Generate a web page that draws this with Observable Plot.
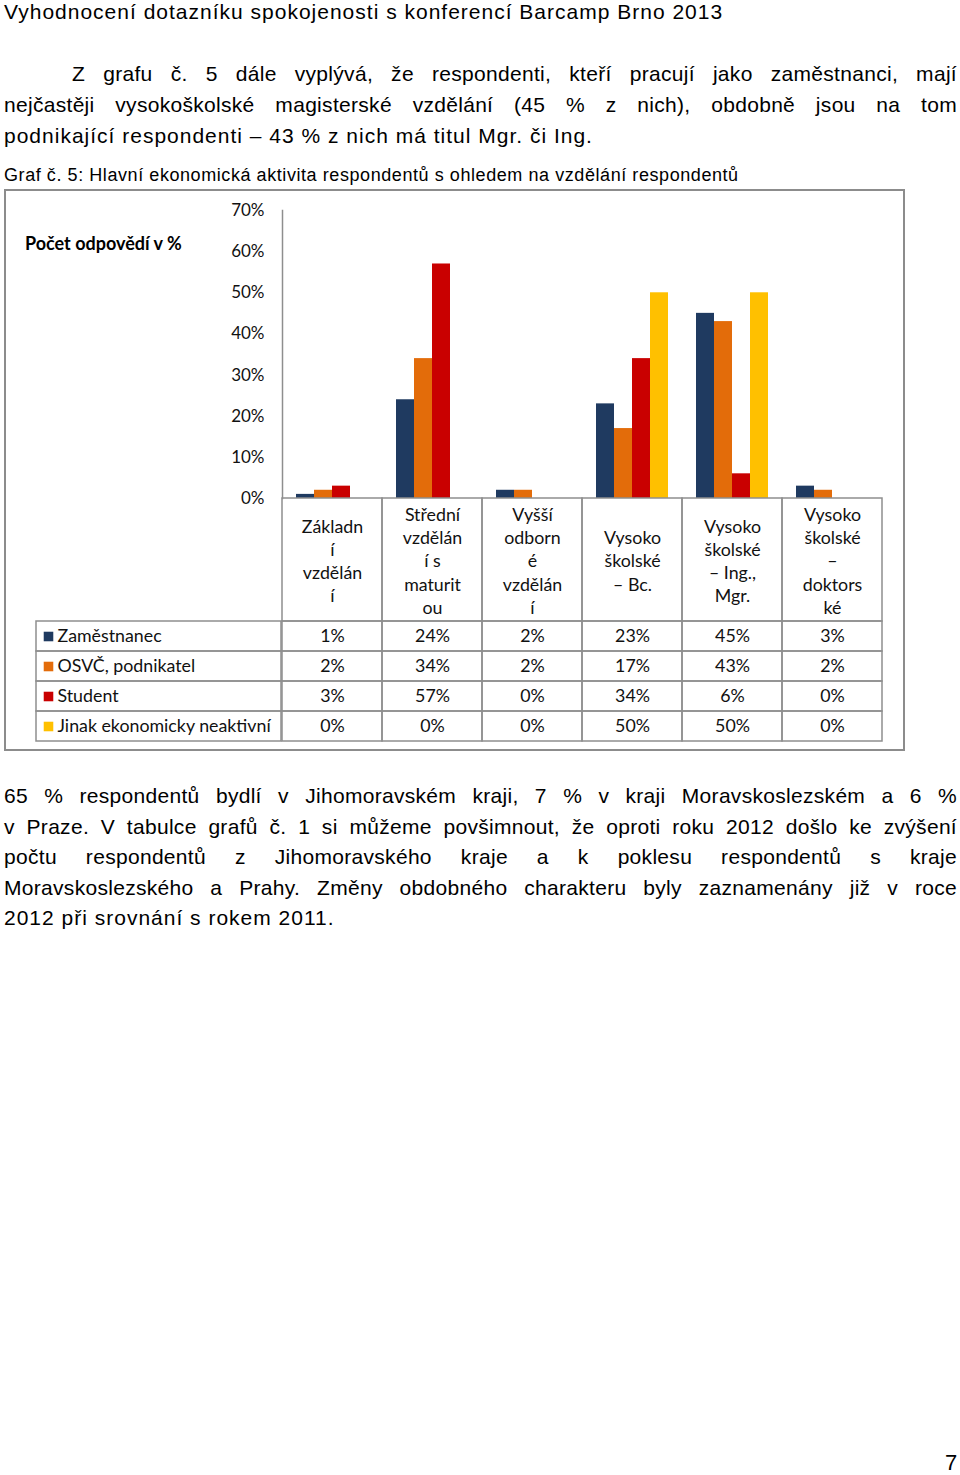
<!DOCTYPE html>
<html>
<head>
<meta charset="utf-8">
<script src="https://cdn.jsdelivr.net/npm/d3@7"></script>
<script src="https://cdn.jsdelivr.net/npm/@observablehq/plot@0.6"></script>
<style>
  html, body { margin: 0; padding: 0; background: #fff; }
  #page { position: relative; width: 960px; height: 1475px; background: #fff; overflow: hidden;
          font-family: "Liberation Sans", Arial, sans-serif; color: #000; }
  .line { position: absolute; font-size: 21px; line-height: 24px; white-space: nowrap; letter-spacing: 1px; }
  .just { text-align: justify; text-align-last: justify; white-space: normal; letter-spacing: 0.3px; }
  .abs { position: absolute; }
  #box { position: absolute; left: 4px; top: 189px; width: 901px; height: 562px; box-sizing: border-box;
         border: 2px solid #8c8c8c; }
  svg.plot-svg { position: absolute; background: transparent; overflow: visible; }
</style>
</head>
<body>
<div id="page">
  <div class="line" style="left:4px; top:0px;">Vyhodnocení dotazníku spokojenosti s konferencí Barcamp Brno 2013</div>

  <div class="line just" style="left:72px; top:62px; width:885px;">Z grafu č. 5 dále vyplývá, že respondenti, kteří pracují jako zaměstnanci, mají</div>
  <div class="line just" style="left:4px; top:93px; width:953px;">nejčastěji vysokoškolské magisterské vzdělání (45 % z nich), obdobně jsou na tom</div>
  <div class="line" style="left:4px; top:124px;">podnikající respondenti – 43 % z nich má titul Mgr. či Ing.</div>

  <div class="line" style="left:4px; top:164px; font-size:18px; line-height:22px; letter-spacing:0.57px;">Graf č. 5: Hlavní ekonomická aktivita respondentů s ohledem na vzdělání respondentů</div>

  <div id="box"></div>
  <div class="abs" style="left:25px; top:231px; font-family: Lato, sans-serif; font-weight:bold; font-size:18px; line-height:24px;">Počet odpovědí v %</div>

  <div class="line just" style="left:4px; top:784px; width:953px;">65 % respondentů bydlí v Jihomoravském kraji, 7 % v kraji Moravskoslezském a 6 %</div>
  <div class="line just" style="left:4px; top:815px; width:953px;">v Praze. V tabulce grafů č. 1 si můžeme povšimnout, že oproti roku 2012 došlo ke zvýšení</div>
  <div class="line just" style="left:4px; top:845px; width:953px;">počtu respondentů z Jihomoravského kraje a k poklesu respondentů s kraje</div>
  <div class="line just" style="left:4px; top:876px; width:953px;">Moravskoslezského a Prahy. Změny obdobného charakteru byly zaznamenány již v roce</div>
  <div class="line" style="left:4px; top:906px;">2012 při srovnání s rokem 2011.</div>

  <div class="line" style="left:945px; top:1451px; font-size:22px;">7</div>
</div>
<script>
// ---- data ----
const categories = ["Základní vzdělání", "Střední vzdělání s maturitou", "Vyšší odborné vzdělání",
                    "Vysokoškolské – Bc.", "Vysokoškolské – Ing., Mgr.", "Vysokoškolské – doktorské"];
const categoryLabels = ["Základn\ní\nvzdělán\ní", "Střední\nvzdělán\ní s\nmaturit\nou", "Vyšší\nodborn\né\nvzdělán\ní",
                        "Vysoko\nškolské\n– Bc.", "Vysoko\nškolské\n– Ing.,\nMgr.", "Vysoko\nškolské\n–\ndoktors\nké"];
const series = ["Zaměstnanec", "OSVČ, podnikatel", "Student", "Jinak ekonomicky neaktivní"];
const zamestnanec = [1, 24, 2, 23, 45, 3];
const osvc = [2, 34, 2, 17, 43, 2];
const student = [3, 57, 0, 34, 6, 0];
const jinak = [0, 0, 0, 50, 50, 0];
const seriesColors = ["#1F3A60", "#E36C0A", "#C90000", "#FFC000"];
const yTicks = [0, 10, 20, 30, 40, 50, 60, 70];

// ---- build table ----
const valuesBySeries = [zamestnanec, osvc, student, jinak];
const rows = [];
series.forEach((s, si) => categories.forEach((c, ci) => rows.push({series: s, category: c, value: valuesBySeries[si][ci]})));
const labelOf = new Map(categories.map((c, i) => [c, categoryLabels[i]]));

const FONT = "Lato, sans-serif";
const FS = 17.8;
const GRID = "#8e8e8e";
const page = document.getElementById("page");
function place(svg, left, top) {
  svg.classList.add("plot-svg");
  svg.style.left = left + "px";
  svg.style.top = top + "px";
  page.appendChild(svg);
}

// ---- bar chart ----
const bars = Plot.plot({
  width: 960, height: 321,
  marginLeft: 281, marginRight: 77, marginTop: 21, marginBottom: 12,
  style: {fontFamily: FONT, fontSize: "16px", color: "#000", background: "transparent", overflow: "visible"},
  fx: {domain: categories, padding: 0, axis: null},
  x: {domain: series, paddingInner: 0, paddingOuter: 0.77, axis: null},
  y: {domain: [0, 70], axis: null},
  color: {domain: series, range: seriesColors},
  marks: [
    Plot.axisY({ticks: yTicks, tickFormat: d => d + "%", tickSize: 0, tickPadding: 18, label: null,
                fontSize: 17, fill: "#111", facetAnchor: "left"}),
    Plot.frame({anchor: "left", stroke: GRID, strokeWidth: 1.5, strokeOpacity: 1, facetAnchor: "left"}),
    Plot.barY(rows, {fx: "category", x: "series", y: "value", fill: "series"})
  ]
});
place(bars, 0, 189);

// ---- table header (category labels) ----
const header = Plot.plot({
  width: 960, height: 125,
  marginLeft: 281, marginRight: 77, marginTop: 1, marginBottom: 1,
  style: {fontFamily: FONT, fontSize: "16px", color: "#000", background: "transparent", overflow: "visible"},
  x: {domain: categories, padding: 0, axis: null},
  marks: [
    Plot.cell(categories, {x: d => d, fill: "none", stroke: GRID, strokeWidth: 1.5}),
    Plot.text(categories, {x: d => d, text: d => labelOf.get(d), frameAnchor: "middle", lineAnchor: "middle",
                           lineHeight: 1.31, fontSize: FS, fill: "#111"})
  ]
});
place(header, 0, 497);

// ---- table values ----
const values = Plot.plot({
  width: 960, height: 122,
  marginLeft: 281, marginRight: 77, marginTop: 1, marginBottom: 1,
  style: {fontFamily: FONT, fontSize: "16px", color: "#000", background: "transparent", overflow: "visible"},
  x: {domain: categories, padding: 0, axis: null},
  y: {domain: series, padding: 0, axis: null},
  marks: [
    Plot.cell(rows, {x: "category", y: "series", fill: "none", stroke: GRID, strokeWidth: 1.5}),
    Plot.text(rows, {x: "category", y: "series", text: d => d.value + "%", fontSize: FS, fill: "#111"})
  ]
});
place(values, 0, 620);

// ---- table legend column ----
const legend = Plot.plot({
  width: 247, height: 122,
  marginLeft: 1, marginRight: 1, marginTop: 1, marginBottom: 1,
  style: {fontFamily: FONT, fontSize: "16px", color: "#000", background: "transparent", overflow: "visible"},
  y: {domain: series, padding: 0, axis: null},
  color: {domain: series, range: seriesColors},
  marks: [
    Plot.cell(series, {y: d => d, fill: "none", stroke: GRID, strokeWidth: 1.5}),
    Plot.dot(series, {y: d => d, frameAnchor: "left", dx: 12, symbol: "square", r: 5.4, fill: d => d, stroke: null}),
    Plot.text(series, {y: d => d, text: d => d, frameAnchor: "left", dx: 21, textAnchor: "start", fontSize: FS, fill: "#111"})
  ]
});
place(legend, 35, 620);
</script>
</body>
</html>
